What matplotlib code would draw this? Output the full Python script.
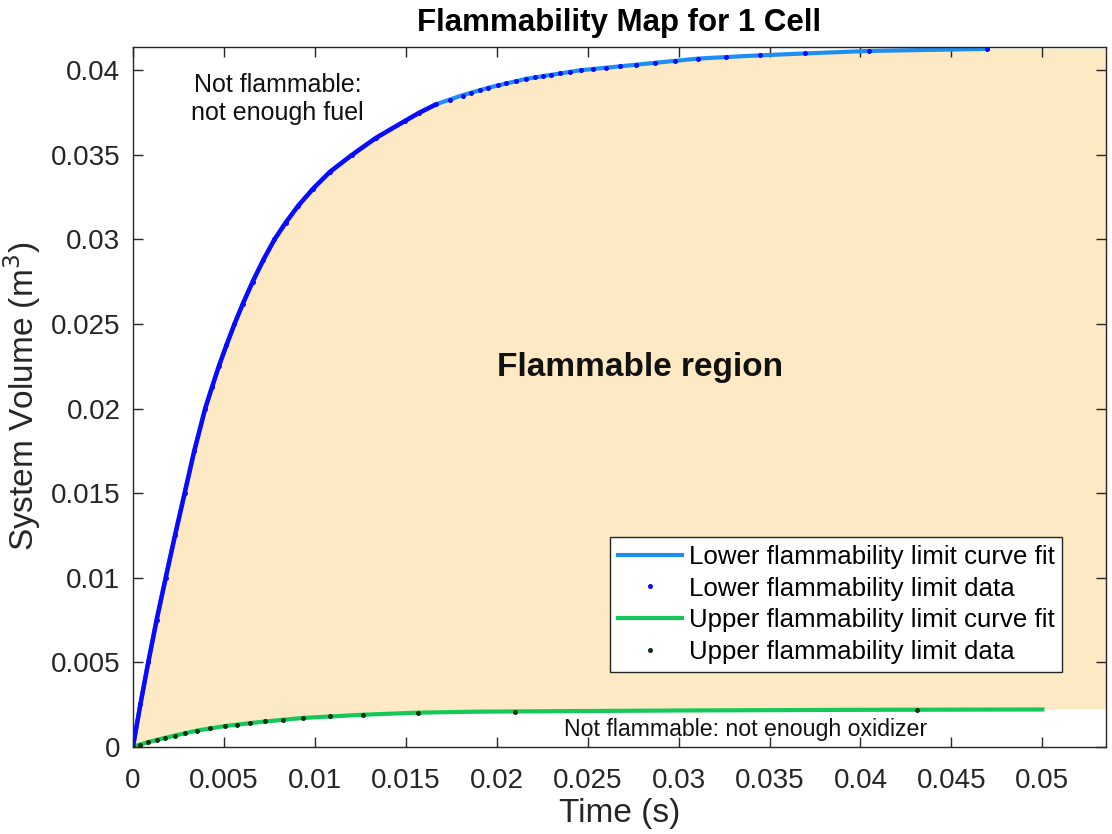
import matplotlib
matplotlib.use("Agg")
import matplotlib.pyplot as plt
import numpy as np
from matplotlib.ticker import FuncFormatter

plt.rcParams["font.family"] = ["Liberation Sans", "DejaVu Sans"]

# lower flammability limit (time in s, volume in m^3)
lfl_fit_t = [0, 0.000406, 0.00084, 0.0013, 0.0018, 0.00231, 0.00284, 0.00337, 0.00397, 0.00434,
             0.00472, 0.00514, 0.00558, 0.00604, 0.00658, 0.00717, 0.00778, 0.0084, 0.00909,
             0.0099, 0.01083, 0.01204, 0.01335, 0.01494, 0.01575, 0.01668, 0.01803, 0.01963,
             0.02162, 0.02454, 0.0292, 0.0311, 0.0337, 0.0369, 0.0405, 0.0470]
lfl_fit_v = [0, 0.0025, 0.0050, 0.0075, 0.0100, 0.0125, 0.0150, 0.0175, 0.0200, 0.02125,
             0.0225, 0.02375, 0.0250, 0.0262, 0.0275, 0.0288, 0.0300, 0.0310, 0.0320,
             0.0330, 0.0340, 0.0350, 0.0360, 0.0370, 0.0375, 0.0380, 0.0385, 0.0390,
             0.0395, 0.0400, 0.0405, 0.0407, 0.04085, 0.0410, 0.04115, 0.04127]

lfl_data_t = [0, 0.000406, 0.00084, 0.0013, 0.0018, 0.00231, 0.00284, 0.00337, 0.00397, 0.00434,
              0.00472, 0.00514, 0.00558, 0.00604, 0.00658, 0.00717, 0.00778, 0.0084, 0.00909,
              0.0099, 0.01083, 0.01204, 0.01335, 0.01494, 0.01575, 0.01668,
              0.01742, 0.01813, 0.01861, 0.01907, 0.01951, 0.02005, 0.02053, 0.02108, 0.02159,
              0.02209, 0.02254, 0.02300, 0.02350, 0.02405, 0.02465, 0.02529, 0.02603, 0.02676,
              0.02768, 0.02868, 0.02980, 0.03106, 0.03262, 0.03449, 0.03694, 0.04049, 0.04698]
lfl_data_v = [0, 0.0025, 0.0050, 0.0075, 0.0100, 0.0125, 0.0150, 0.0175, 0.0200, 0.02125,
              0.0225, 0.02375, 0.0250, 0.0262, 0.0275, 0.0288, 0.0300, 0.0310, 0.0320,
              0.0330, 0.0340, 0.0350, 0.0360, 0.0370, 0.0375, 0.0380,
              0.03825, 0.03849, 0.03865, 0.03881, 0.03896, 0.03911, 0.03923, 0.03936, 0.03949,
              0.03958, 0.03966, 0.03974, 0.03982, 0.03992, 0.04001, 0.04008, 0.04016, 0.04024,
              0.04034, 0.04045, 0.04056, 0.04070, 0.04079, 0.04090, 0.04100, 0.04115, 0.04127]
lfl_dense = 26  # the early data points overlap into a solid blue line

# upper flammability limit
ufl_fit_t = [0, 0.0008, 0.00167, 0.0035, 0.00505, 0.00716, 0.00936, 0.01266, 0.01559, 0.0189,
             0.025, 0.030, 0.040, 0.050]
ufl_fit_v = [0, 0.00026, 0.0005, 0.00095, 0.00122, 0.00148, 0.0017, 0.00189, 0.00201, 0.00207,
             0.00211, 0.00214, 0.00218, 0.0022]

ufl_data_t = [0, 0.00038, 0.00084, 0.0013, 0.00176, 0.0023, 0.00286, 0.0035, 0.00423, 0.00505,
              0.0057, 0.00643, 0.00725, 0.00826, 0.00936, 0.01082, 0.01266, 0.01568, 0.0210,
              0.0431]
ufl_data_v = [0, 0.00012, 0.00026, 0.0004, 0.00053, 0.00066, 0.0008, 0.00095, 0.00108, 0.00122,
              0.0013, 0.00139, 0.00149, 0.00159, 0.0017, 0.00179, 0.00189, 0.00201, 0.00208,
              0.00219]

x_ticks = [0, 0.005, 0.01, 0.015, 0.02, 0.025, 0.03, 0.035, 0.04, 0.045, 0.05]
y_ticks = [0, 0.005, 0.01, 0.015, 0.02, 0.025, 0.03, 0.035, 0.04]
x_lim = (0, 0.0535)
y_lim = (0, 0.0414)

fit_blue = "#1e8ff0"
data_blue = "#0a0aff"
fit_green = "#14c85a"
data_green = "#0d3310"
region_color = "#fde9c3"
axis_color = "#262626"


def plot_map():
    fig = plt.figure(figsize=(11.12, 8.34), dpi=100)
    ax = fig.add_axes([0.1196, 0.1047, 0.8750, 0.8393])

    # flammable region between the two limits, carried on to the right edge
    poly_t = np.concatenate([lfl_fit_t, [x_lim[1], x_lim[1]], ufl_fit_t[::-1]])
    poly_v = np.concatenate([lfl_fit_v, [lfl_fit_v[-1], ufl_fit_v[-1]], ufl_fit_v[::-1]])
    ax.fill(poly_t, poly_v, color=region_color, lw=0, zorder=0)

    ax.plot(lfl_fit_t, lfl_fit_v, color=fit_blue, lw=3, label="Lower flammability limit curve fit",
            zorder=2)
    ax.plot(lfl_data_t[:lfl_dense], lfl_data_v[:lfl_dense], color=data_blue, lw=3.2, zorder=3,
            solid_capstyle="round", solid_joinstyle="round")
    ax.plot(lfl_data_t, lfl_data_v, "o", color=data_blue, ms=3.6, mew=0,
            label="Lower flammability limit data", zorder=3)
    ax.plot(ufl_fit_t, ufl_fit_v, color=fit_green, lw=3, label="Upper flammability limit curve fit",
            zorder=2)
    ax.plot(ufl_data_t, ufl_data_v, "o", color=data_green, ms=3.6, mew=0,
            label="Upper flammability limit data", zorder=3)

    ax.text(0.00794, 0.0383, "Not flammable:\nnot enough fuel", fontsize=18, ha="center",
            va="center", linespacing=1.25, color="#111111")
    ax.text(0.0337, 0.00102, "Not flammable: not enough oxidizer", fontsize=16.7, ha="center",
            va="center", color="#111111")
    ax.text(0.0279, 0.0224, "Flammable region", fontsize=24, fontweight="bold", ha="center",
            va="center", color="#111111")

    ax.set_xlim(*x_lim)
    ax.set_ylim(*y_lim)
    ax.set_xticks(x_ticks)
    ax.set_yticks(y_ticks)
    fmt = FuncFormatter(lambda v, _: f"{v:g}")
    ax.xaxis.set_major_formatter(fmt)
    ax.yaxis.set_major_formatter(fmt)
    ax.tick_params(direction="in", length=7, width=1, top=True, right=True, labelsize=20,
                   colors=axis_color)
    ax.tick_params(axis="x", pad=15)
    ax.tick_params(axis="y", pad=9)
    for spine in ax.spines.values():
        spine.set_color(axis_color)
        spine.set_linewidth(1)

    ax.set_xlabel("Time (s)", fontsize=24, color=axis_color, labelpad=3)
    ax.set_ylabel("System Volume (m$^3$)", fontsize=24, color=axis_color, labelpad=6)
    ax.set_title("Flammability Map for 1 Cell", fontsize=22.5, fontweight="bold", pad=11)

    leg = ax.legend(loc="lower right", bbox_to_anchor=(0.955, 0.107), fontsize=18.6,
                    handlelength=2.5, handletextpad=0.25, borderpad=0.3, labelspacing=0.3,
                    fancybox=False, framealpha=1, edgecolor=axis_color, borderaxespad=0)
    leg.get_frame().set_linewidth(1)

    fig.savefig("out.png", dpi=100)


if __name__ == "__main__":
    plot_map()
